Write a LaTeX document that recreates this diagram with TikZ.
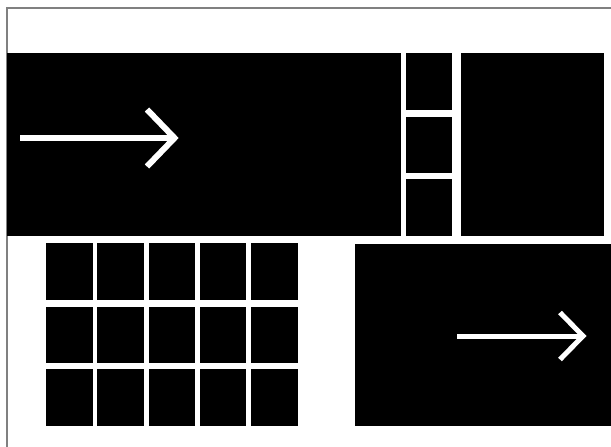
\documentclass[tikz,border=0pt]{standalone}
\usetikzlibrary{positioning}
\begin{document}
\begin{tikzpicture}[
    x=1pt, y=-1pt,
    tile/.style={rectangle, fill=black, inner sep=0pt, outer sep=0pt},
    cell/.style={tile, minimum width=46.5pt, minimum height=56.5pt},
    pointer/.style={draw=white, line join=miter}
]
    \useasboundingbox (0,0) rectangle (611,447);

    % Frame (cut at right and bottom)
    \draw[gray, line width=1.5pt] (7,447) |- (611,8);

    % Top band
    \node[tile, minimum width=394pt, minimum height=183pt] (wide) at (204,144.5) {};
    \node[tile, minimum width=46pt, minimum height=57pt] (strip1) at (429,81.5) {};
    \node[tile, minimum width=46pt, minimum height=56pt] (strip2) at (429,145) {};
    \node[tile, minimum width=46pt, minimum height=57pt] (strip3) at (429,207.5) {};
    \node[tile, minimum width=143pt, minimum height=183pt] (side) at (532.5,144.5) {};

    % Grid of cells
    \node[cell] (c11) at (69.25,271.25) {};
    \node[cell] (c12) at (120.5,271.25) {};
    \node[cell] (c13) at (171.75,271.25) {};
    \node[cell] (c14) at (223,271.25) {};
    \node[cell] (c15) at (274.25,271.25) {};
    \node[cell] (c21) at (69.25,334.75) {};
    \node[cell] (c22) at (120.5,334.75) {};
    \node[cell] (c23) at (171.75,334.75) {};
    \node[cell] (c24) at (223,334.75) {};
    \node[cell] (c25) at (274.25,334.75) {};
    \node[cell] (c31) at (69.25,397.25) {};
    \node[cell] (c32) at (120.5,397.25) {};
    \node[cell] (c33) at (171.75,397.25) {};
    \node[cell] (c34) at (223,397.25) {};
    \node[cell] (c35) at (274.25,397.25) {};

    % Lower right panel
    \node[tile, minimum width=256pt, minimum height=182pt] (panel) at (483,335) {};

    % Arrows
    \coordinate (a1s) at (20,138);
    \coordinate (a1t) at (174.5,138);
    \coordinate (a1u) at (147,109.5);
    \coordinate (a1l) at (147,166.5);
    \draw[pointer, line width=6pt] (a1s) -- (a1t);
    \draw[pointer, line width=6pt] (a1u) -- (a1t) -- (a1l);

    \coordinate (a2s) at (457,336);
    \coordinate (a2t) at (583,336);
    \coordinate (a2u) at (560,312.5);
    \coordinate (a2l) at (560,359.5);
    \draw[pointer, line width=5pt] (a2s) -- (a2t);
    \draw[pointer, line width=5pt] (a2u) -- (a2t) -- (a2l);
\end{tikzpicture}
\end{document}
